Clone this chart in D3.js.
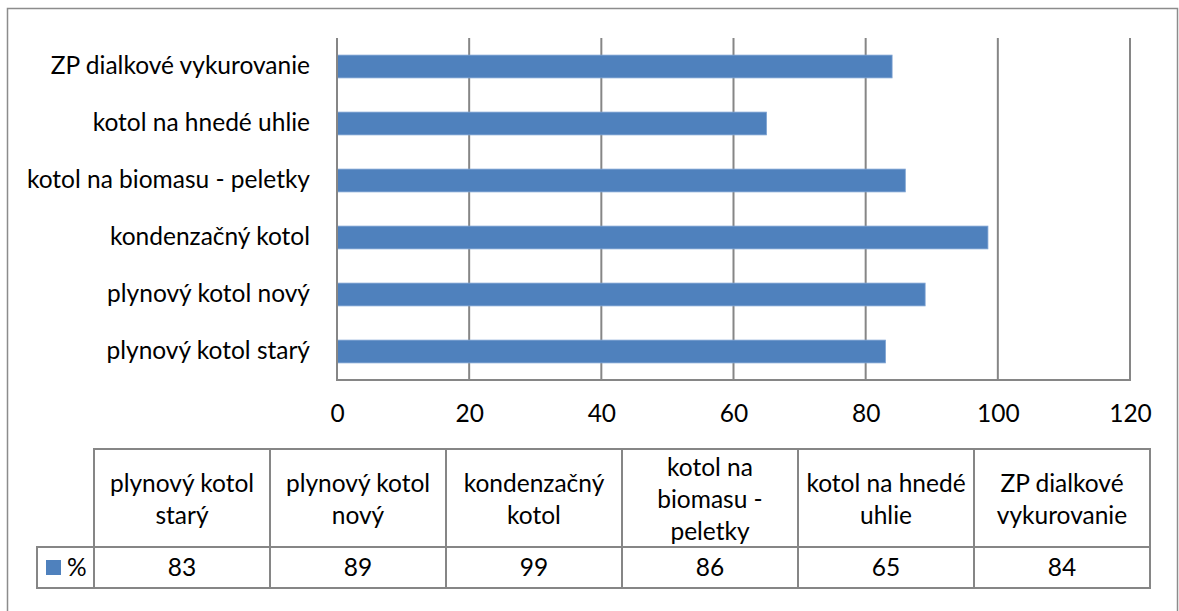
<!DOCTYPE html>
<html>
<head>
<meta charset="utf-8">
<script src="https://cdn.jsdelivr.net/npm/d3@7"></script>
<style>
  body { margin: 0; background: #fff; }
  text { font-family: Lato, "Open Sans", sans-serif; fill: #000; }
</style>
</head>
<body>
<svg></svg>
<script>
let WIDTH = 1179;
let HEIGHT = 611;
const FONT = '24.5px';

// chart data
let categories = ['plynový kotol starý', 'plynový kotol nový', 'kondenzačný kotol',
    'kotol na biomasu - peletky', 'kotol na hnedé uhlie', 'ZP dialkové vykurovanie'];
let values = [83, 89, 98.5, 86, 65, 84];
let seriesName = '%';
let xTicks = [0, 20, 40, 60, 80, 100, 120];
// header lines of the data table, as wrapped in the picture
let tableHeaders = [
    ['plynový kotol', 'starý'],
    ['plynový kotol', 'nový'],
    ['kondenzačný', 'kotol'],
    ['kotol na', 'biomasu -', 'peletky'],
    ['kotol na hnedé', 'uhlie'],
    ['ZP dialkové', 'vykurovanie']
];

const BLUE = '#4f81bd';
const GRID = '#868686';

let svg = d3.select('svg')
    .attr('width', WIDTH)
    .attr('height', HEIGHT);

// outer chart border
svg.append('rect')
    .attr('x', 7.5).attr('y', 8.5)
    .attr('width', 1170).attr('height', 640)
    .attr('fill', 'none')
    .attr('stroke', '#8c8c8c')
    .attr('stroke-width', 1.5);

let plot = { left: 337, right: 1130, top: 38, bottom: 380 };

let x = d3.scaleLinear()
    .domain([0, 120])
    .range([plot.left, plot.right]);

// first category at the bottom
let y = d3.scaleBand()
    .domain(categories.slice().reverse())
    .range([plot.top, plot.bottom])
    .paddingInner(0.6)
    .paddingOuter(0.3);

// vertical gridlines
svg.append('g')
    .classed('grid', true)
    .selectAll('line')
    .data(xTicks.slice(1))
    .enter()
    .append('line')
        .attr('x1', (d) => x(d))
        .attr('x2', (d) => x(d))
        .attr('y1', plot.top)
        .attr('y2', plot.bottom)
        .attr('stroke', GRID)
        .attr('stroke-width', 2);

// bars
svg.append('g')
    .classed('bars', true)
    .selectAll('rect')
    .data(categories)
    .enter()
    .append('rect')
        .attr('x', x(0))
        .attr('y', (d) => y(d))
        .attr('width', (d, i) => x(values[i]) - x(0))
        .attr('height', y.bandwidth())
        .attr('fill', BLUE)
        .attr('stroke', '#7ea3d3')
        .attr('stroke-width', 0.8);

// axis lines
svg.append('line')
    .attr('x1', plot.left).attr('x2', plot.left)
    .attr('y1', plot.top).attr('y2', plot.bottom)
    .attr('stroke', GRID).attr('stroke-width', 2);
svg.append('line')
    .attr('x1', plot.left - 1).attr('x2', plot.right + 1)
    .attr('y1', plot.bottom).attr('y2', plot.bottom)
    .attr('stroke', GRID).attr('stroke-width', 2);

// x tick labels
let xAxis = d3.axisBottom(x).tickValues(xTicks).tickSize(0).tickPadding(0);
let xg = svg.append('g')
    .attr('transform', `translate(0, ${plot.bottom})`)
    .call(xAxis);
xg.select('.domain').remove();
xg.selectAll('text')
    .attr('y', 33)
    .attr('dy', '0.35em')
    .style('font-family', 'Lato, "Open Sans", sans-serif')
    .style('font-size', FONT)
    .attr('fill', '#000');

// category labels
let yAxis = d3.axisLeft(y).tickSize(0).tickPadding(27);
let yg = svg.append('g')
    .attr('transform', `translate(${plot.left}, 0)`)
    .call(yAxis);
yg.select('.domain').remove();
yg.selectAll('text')
    .style('font-family', 'Lato, "Open Sans", sans-serif')
    .style('font-size', FONT)
    .attr('fill', '#000');

// data table
let table = { left: 94, right: 1150, top: 449, mid: 547, bottom: 588, legendLeft: 37 };
let col = d3.scaleBand()
    .domain(categories)
    .range([table.left, table.right]);

let tg = svg.append('g').classed('table', true);
let edges = [];
edges.push([table.left, table.top, table.right, table.top]);
edges.push([table.legendLeft, table.mid, table.right, table.mid]);
edges.push([table.legendLeft, table.bottom, table.right, table.bottom]);
edges.push([table.legendLeft, table.mid, table.legendLeft, table.bottom]);
categories.forEach((c) => edges.push([col(c), table.top, col(c), table.bottom]));
edges.push([table.right, table.top, table.right, table.bottom]);

tg.selectAll('line')
    .data(edges)
    .enter()
    .append('line')
        .attr('x1', (d) => d[0]).attr('y1', (d) => d[1])
        .attr('x2', (d) => d[2]).attr('y2', (d) => d[3])
        .attr('stroke', GRID)
        .attr('stroke-width', 2)
        .attr('stroke-linecap', 'square');

const LINE_H = 32;
let headMid = (table.top + table.mid) / 2 + 1;
tg.selectAll('text.head')
    .data(categories)
    .enter()
    .append('text')
        .classed('head', true)
        .attr('text-anchor', 'middle')
        .style('font-size', FONT)
        .each(function(d, i){
            let lines = tableHeaders[i];
            let y0 = headMid - (lines.length - 1) * LINE_H / 2;
            d3.select(this).selectAll('tspan')
                .data(lines)
                .enter()
                .append('tspan')
                    .attr('x', col(d) + col.bandwidth() / 2)
                    .attr('y', (l, j) => y0 + j * LINE_H)
                    .attr('dy', '0.35em')
                    .text((l) => l);
        });

let rowMid = (table.mid + table.bottom) / 2;
tg.selectAll('text.val')
    .data(categories)
    .enter()
    .append('text')
        .classed('val', true)
        .attr('x', (d) => col(d) + col.bandwidth() / 2)
        .attr('y', rowMid)
        .attr('dy', '0.35em')
        .attr('text-anchor', 'middle')
        .style('font-size', FONT)
        .text((d, i) => d3.format('.0f')(values[i]));

// legend key
tg.append('rect')
    .attr('x', 46).attr('y', rowMid - 7.5)
    .attr('width', 15).attr('height', 15)
    .attr('fill', BLUE);
tg.append('text')
    .attr('x', 67)
    .attr('y', rowMid)
    .attr('dy', '0.35em')
    .style('font-size', FONT)
    .text(seriesName);
</script>
</body>
</html>
